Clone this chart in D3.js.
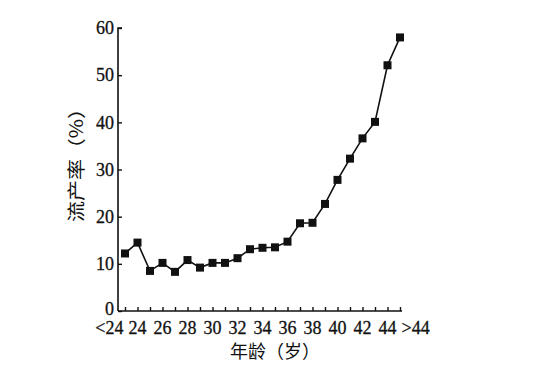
<!DOCTYPE html>
<html>
<head>
<meta charset="utf-8">
<script src="https://cdn.jsdelivr.net/npm/d3@7"></script>
<style>
  body { margin: 0; background: #fff; }
  text { fill: #111; }
</style>
</head>
<body>
<div id="chart"></div>
<script>
// ages: <24, 24..44, >44
const ages = ["<24"].concat(d3.range(24, 45).map(String)).concat([">44"]);
const rates = [12.2, 14.5, 8.5, 10.2, 8.3, 10.8, 9.2, 10.2, 10.2, 11.2, 13.1, 13.4, 13.5, 14.7,
               18.6, 18.7, 22.7, 27.8, 32.3, 36.6, 40.1, 52.1, 58.0];
const yTicks = [0, 10, 20, 30, 40, 50, 60];
const xLabelAges = ["24", "26", "28", "30", "32", "34", "36", "38", "40", "42", "44"];

const width = 533, height = 376;
const plot = { left: 118, right: 402, top: 28, bottom: 311 };

const svg = d3.select("#chart").append("svg")
    .attr("width", width)
    .attr("height", height);

const x = d3.scalePoint()
    .domain(ages)
    .range([125, 400]);

const y = d3.scaleLinear()
    .domain([0, 60])
    .range([plot.bottom, plot.top]);

const serif = "'Liberation Serif', 'Times New Roman', serif";

// Y axis
const yAxis = svg.append("g")
    .attr("transform", `translate(${plot.left},0)`)
    .call(d3.axisRight(y).tickValues(yTicks).tickSize(4).tickFormat(""));
yAxis.select(".domain").attr("d", `M4,${plot.top}H0V${plot.bottom}`).attr("stroke", "#111").attr("stroke-width", 1.6);
yAxis.selectAll(".tick line").attr("stroke", "#111").attr("stroke-width", 1.4);

svg.append("g").selectAll("text")
    .data(yTicks)
    .enter().append("text")
    .attr("x", plot.left - 4)
    .attr("y", d => y(d))
    .attr("dy", d => d === 0 ? "0.2em" : "0.35em")
    .attr("text-anchor", "end")
    .style("font-family", serif)
    .style("font-size", "18px")
    .style("stroke", "#111")
    .style("stroke-width", 0.3)
    .text(d => d);

// X axis
const xAxis = svg.append("g")
    .attr("transform", `translate(0,${plot.bottom})`)
    .call(d3.axisTop(x).tickSize(4).tickFormat(""));
xAxis.select(".domain").attr("d", `M${plot.left},0H${plot.right}`).attr("stroke", "#111").attr("stroke-width", 1.6);
xAxis.selectAll(".tick line").attr("stroke", "#111").attr("stroke-width", 1.4);

const xl = svg.append("g")
    .style("font-family", serif)
    .style("font-size", "18px")
    .style("stroke", "#111")
    .style("stroke-width", 0.3);
xl.selectAll("text.mid")
    .data(xLabelAges)
    .enter().append("text")
    .attr("class", "mid")
    .attr("x", d => x(d))
    .attr("y", 334)
    .attr("text-anchor", "middle")
    .text(d => d);
xl.append("text")
    .attr("x", x("24") - 14)
    .attr("y", 334)
    .attr("text-anchor", "end")
    .text(ages[0]);
xl.append("text")
    .attr("x", x("44") + 14)
    .attr("y", 334)
    .attr("text-anchor", "start")
    .text(ages[ages.length - 1]);

// axis titles
svg.append("text")
    .attr("transform", `translate(83,160) rotate(-90)`)
    .attr("text-anchor", "middle")
    .attr("textLength", 124)
    .attr("lengthAdjust", "spacingAndGlyphs")
    .style("font-family", "'Noto Sans CJK SC', sans-serif")
    .style("font-size", "18px")
    .text("流产率（%）");

svg.append("text")
    .attr("x", 275)
    .attr("y", 358)
    .attr("text-anchor", "middle")
    .style("font-family", "'Noto Sans CJK SC', sans-serif")
    .style("font-size", "18px")
    .text("年龄（岁）");

// line + markers
const line = d3.line()
    .x((d, i) => x(ages[i]))
    .y(d => y(d));

svg.append("path")
    .datum(rates)
    .attr("d", line)
    .attr("fill", "none")
    .attr("stroke", "#111")
    .attr("stroke-width", 1.6);

const s = 8;
svg.append("g").selectAll("rect")
    .data(rates)
    .enter().append("rect")
    .attr("x", (d, i) => x(ages[i]) - s / 2)
    .attr("y", d => y(d) - s / 2)
    .attr("width", s)
    .attr("height", s)
    .attr("fill", "#111");
</script>
</body>
</html>
